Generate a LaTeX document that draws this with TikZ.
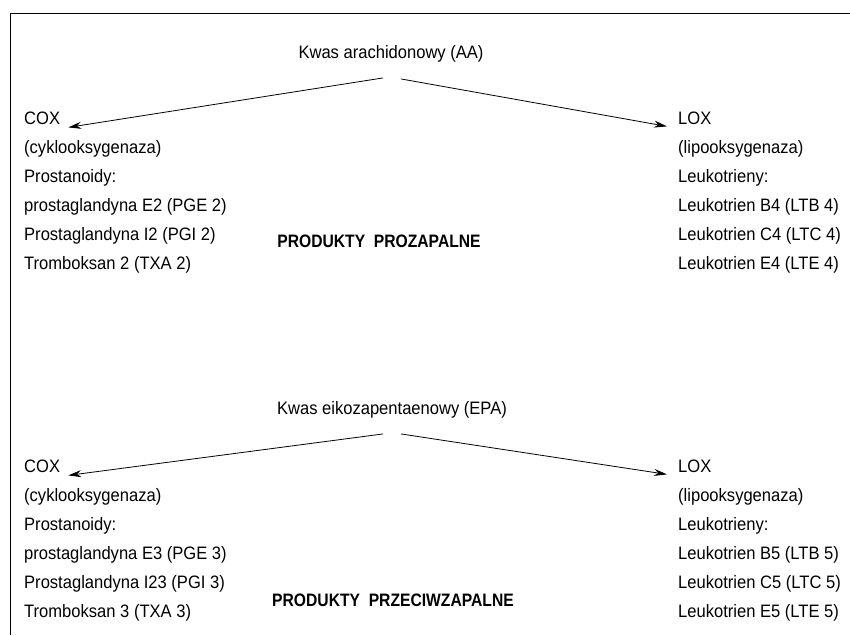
\documentclass[tikz,border=0pt]{standalone}
\usepackage{fontspec}
\setmainfont[FakeStretch=0.92]{Liberation Sans}
\newfontfamily\labfont[FakeStretch=0.87]{Liberation Sans}
\usetikzlibrary{arrows.meta}

\tikzset{
	txt/.style={anchor=base west, inner sep=0pt, font=\fontsize{18}{29}\selectfont},
	ttl/.style={anchor=base, inner sep=0pt, font=\fontsize{18}{29}\selectfont},
	prod/.style={anchor=base, inner sep=0pt, font=\labfont\bfseries\fontsize{18}{29}\selectfont},
	arr/.style={line width=0.8pt, -{Stealth[length=13pt,width=7pt]}}
}

\begin{document}
\begin{tikzpicture}[x=1pt,y=-1pt]
		\useasboundingbox (0,0) rectangle (850,635);
		\draw[line width=0.8pt](850,13) -- (10,13) -- (10,635);
		% upper part
		\node[ttl] (aa) at (391,58) {Kwas arachidonowy (AA)};
		\foreach \t [count=\i] in {COX,{(cyklooksygenaza)},Prostanoidy:,{prostaglandyna E2 (PGE 2)},{Prostaglandyna I2 (PGI 2)},{Tromboksan 2 (TXA 2)}}
			\node[txt] (cA\i) at (24,{124+29*(\i-1)}) {\t};
		\foreach \t [count=\i] in {LOX,{(lipooksygenaza)},Leukotrieny:,{Leukotrien B4 (LTB 4)},{Leukotrien C4 (LTC 4)},{Leukotrien E4 (LTE 4)}}
			\node[txt] (lA\i) at (678,{124+29*(\i-1)}) {\t};
		\node[prod] (pA) at (379,247) {PRODUKTY\ \ PROZAPALNE};
		\coordinate (aaL) at ([xshift=-8pt,yshift=-16pt]aa.south);
		\coordinate (aaR) at ([xshift=10pt,yshift=-17pt]aa.south);
		\draw[arr](aaL) -- ([xshift=8pt,yshift=-3pt]cA1.south east);
		\draw[arr](aaR) -- ([xshift=-11pt,yshift=-2pt]lA1.south west);
		% lower part
		\node[ttl] (epa) at (392,414) {Kwas eikozapentaenowy (EPA)};
		\foreach \t [count=\i] in {COX,{(cyklooksygenaza)},Prostanoidy:,{prostaglandyna E3 (PGE 3)},{Prostaglandyna I23 (PGI 3)},{Tromboksan 3 (TXA 3)}}
			\node[txt] (cB\i) at (24,{472+29*(\i-1)}) {\t};
		\foreach \t [count=\i] in {LOX,{(lipooksygenaza)},Leukotrieny:,{Leukotrien B5 (LTB 5)},{Leukotrien C5 (LTC 5)},{Leukotrien E5 (LTE 5)}}
			\node[txt] (lB\i) at (678,{472+29*(\i-1)}) {\t};
		\node[prod] (pB) at (393,606) {PRODUKTY\ \ PRZECIWZAPALNE};
		\coordinate (epaL) at ([xshift=-9pt,yshift=-16pt]epa.south);
		\coordinate (epaR) at ([xshift=9pt,yshift=-16pt]epa.south);
		\draw[arr](epaL) -- ([xshift=8pt,yshift=-3pt]cB1.south east);
		\draw[arr](epaR) -- ([xshift=-11pt,yshift=-2pt]lB1.south west);
	\end{tikzpicture}
\end{document}
